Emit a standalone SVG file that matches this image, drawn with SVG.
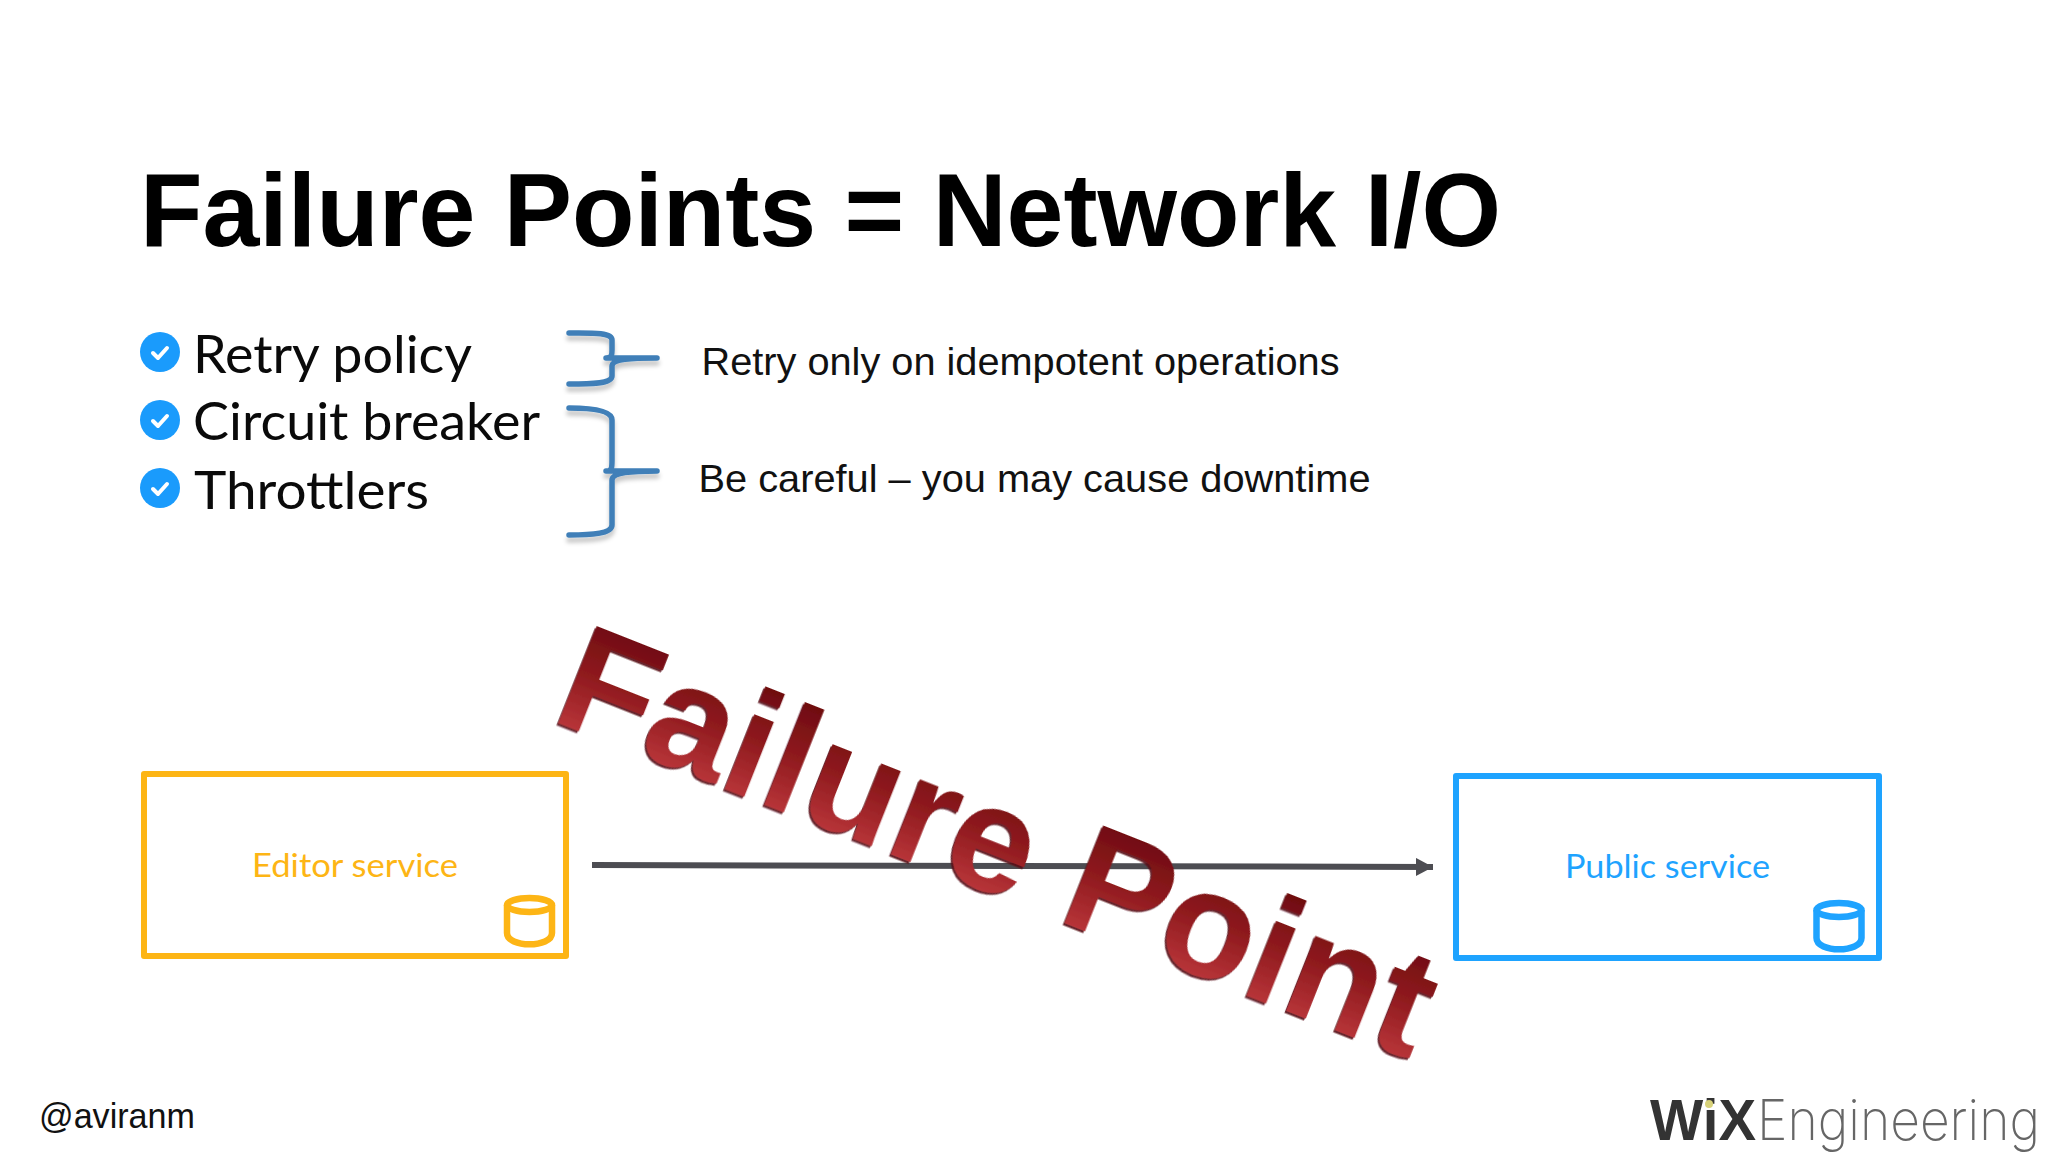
<svg xmlns="http://www.w3.org/2000/svg" width="2048" height="1152" viewBox="0 0 2048 1152">
<style>
.ar{font-family:"Liberation Sans",Arial,sans-serif}
.la{font-family:Lato,"Noto Sans",sans-serif}
.item{font-size:52px;fill:#0a0a0a}
.note{font-size:39.5px;fill:#111}
.box{fill:#fff;stroke-width:6;stroke-linejoin:round}
.cyl{fill:none;stroke-width:6.500}
.lab{font-size:33px}
.brace{fill:none;stroke:#3f7fb8;stroke-width:5.500;stroke-linejoin:round;stroke-linecap:round;filter:url(#bs)}
.dot{fill:#1a9bfc}
.tick{fill:none;stroke:#fff;stroke-width:4;stroke-linecap:round;stroke-linejoin:round}
</style>
<defs>
<linearGradient id="red" gradientUnits="userSpaceOnUse" x1="0" y1="-110" x2="0" y2="0">
<stop offset="0" stop-color="#6f0c10"/><stop offset=".5" stop-color="#8f1a1e"/><stop offset="1" stop-color="#b73438"/>
</linearGradient>
<filter id="bs" x="-20%" y="-20%" width="140%" height="140%"><feDropShadow dx="0" dy="5" stdDeviation="2" flood-color="#000" flood-opacity=".22"/></filter>
<filter id="bev" x="-5%" y="-5%" width="110%" height="110%"><feDropShadow dx="-1" dy="2.500" stdDeviation=".6" flood-color="#5a1013" flood-opacity=".9"/></filter>
<marker id="ah" markerUnits="userSpaceOnUse" markerWidth="18" markerHeight="18" refX="17" refY="9" orient="auto"><path d="M0 0L17 9L0 18Z" fill="#4d4d52"/></marker>
</defs>
<rect width="2048" height="1152" fill="#fff"/>
<g id="title"><text class="ar" x="140" y="246" font-size="104" font-weight="700" fill="#000" textLength="1361" lengthAdjust="spacingAndGlyphs">Failure Points = Network I/O</text></g>
<g id="checklist">
<g id="item-retry"><circle class="dot" cx="160" cy="352" r="20"/><path class="tick" d="M153 353l5 5 9-10"/><text class="la item" x="193" y="373" textLength="279" lengthAdjust="spacingAndGlyphs">Retry policy</text></g>
<g id="item-circuit"><circle class="dot" cx="160" cy="420" r="20"/><path class="tick" d="M153 421l5 5 9-10"/><text class="la item" x="193" y="440" textLength="347" lengthAdjust="spacingAndGlyphs">Circuit breaker</text></g>
<g id="item-throttlers"><circle class="dot" cx="160" cy="488" r="20"/><path class="tick" d="M153 489l5 5 9-10"/><text class="la item" x="194" y="509" textLength="235" lengthAdjust="spacingAndGlyphs">Throttlers</text></g>
</g>
<g id="connectors">
<path class="brace" d="M569 333C590 333 612 332 612 340V350C612 355 612 358 606 358C620 358 640 358 657 358C640 358 612 358 612 366V376C612 384 590 384 569 384"/>
<path class="brace" d="M569 408C590 408 612 410 612 420V460C612 468 612 471 606 471C620 471 640 471 657 471C640 471 612 471 612 480V525C612 534 590 535 569 535"/>
<line x1="592" y1="865" x2="1433" y2="867" stroke="#4d4d52" stroke-width="6" marker-end="url(#ah)"/>
</g>
<g id="notes">
<text class="ar note" x="701.500" y="375" textLength="638" lengthAdjust="spacingAndGlyphs">Retry only on idempotent operations</text>
<text class="ar note" x="698.500" y="492" textLength="672" lengthAdjust="spacingAndGlyphs">Be careful – you may cause downtime</text>
</g>
<g id="editor-service">
<rect class="box" x="144" y="774" width="422" height="182" stroke="#fdb515"/>
<text class="la lab" x="252" y="877" fill="#fdb515" textLength="206" lengthAdjust="spacingAndGlyphs">Editor service</text>
<g class="cyl" stroke="#fdb515"><ellipse cx="529.500" cy="905" rx="22.500" ry="7"/><path d="M507 905V933C507 948 552 948 552 933V905"/></g>
</g>
<g id="public-service">
<rect class="box" x="1456" y="776" width="423" height="182" stroke="#1ea3ff"/>
<text class="la lab" x="1565" y="878" fill="#1ea3ff" textLength="205" lengthAdjust="spacingAndGlyphs">Public service</text>
<g class="cyl" stroke="#1ea3ff"><ellipse cx="1839" cy="910" rx="22.500" ry="7"/><path d="M1816.500 910V938C1816.500 953 1861.500 953 1861.500 938V910"/></g>
</g>
<g id="failure-point"><text class="ar" transform="translate(549 719) rotate(21.600)" font-size="153" font-weight="700" fill="url(#red)" filter="url(#bev)">Failure Point</text></g>
<g id="handle"><text class="ar" x="39" y="1128" font-size="35" fill="#111" textLength="156" lengthAdjust="spacingAndGlyphs">@aviranm</text></g>
<g id="logo"><text class="ar" x="1650" y="1140" font-size="57" font-weight="700" fill="#333" textLength="106" lengthAdjust="spacingAndGlyphs">WiX</text><circle cx="1709" cy="1104" r="4" fill="#d8d27a"/><text x="1757" y="1140" font-family="Inter,'Liberation Sans',sans-serif" font-weight="200" font-size="56" fill="#666" textLength="283" lengthAdjust="spacingAndGlyphs">Engineering</text></g>
</svg>
